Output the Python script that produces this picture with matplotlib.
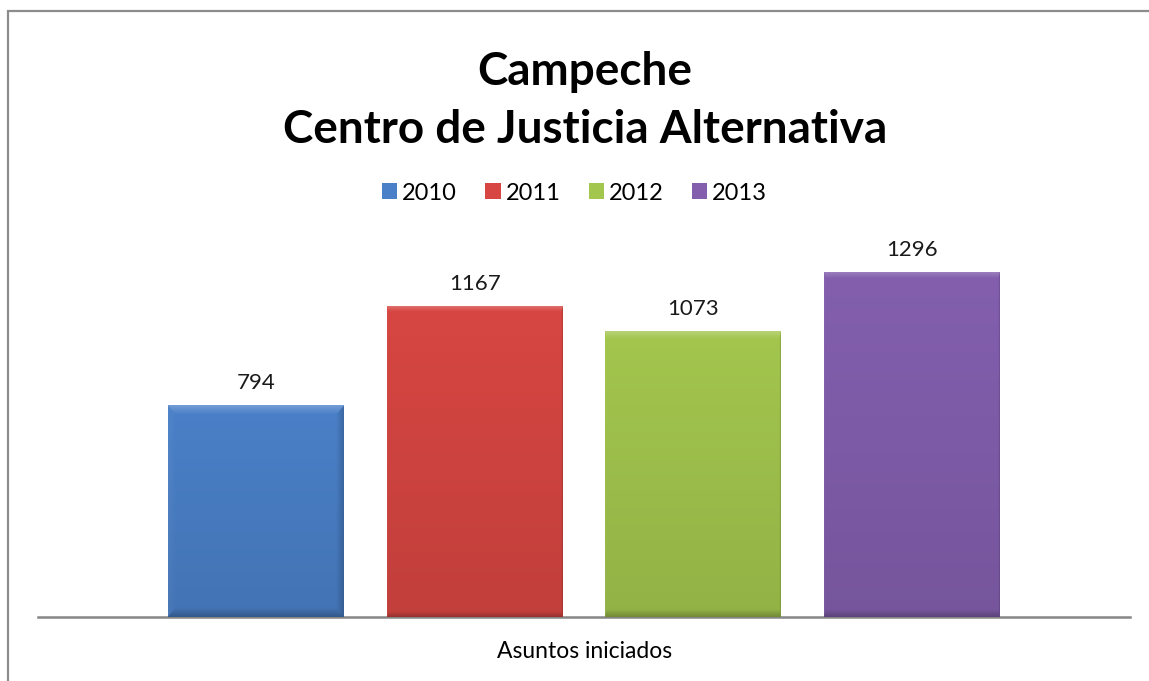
import numpy as np
import matplotlib
matplotlib.use("Agg")
import matplotlib.pyplot as plt
from matplotlib.patches import Rectangle
from matplotlib.colors import to_rgb

plt.rcParams['font.family'] = ['Lato', 'DejaVu Sans']

years = ['2010', '2011', '2012', '2013']
values = [794, 1167, 1073, 1296]
category = 'Asuntos iniciados'
colors = ['#4A80C8', '#D74642', '#A3C64E', '#835FAE']
title1 = 'Campeche'
title2 = 'Centro de Justicia Alternativa'


def bevel_image(color, nx, ny, bw=9):
    # bar face with a mitred bevel: light top, dark bottom/right
    base = np.array(to_rgb(color))
    xx, yy = np.meshgrid(np.arange(nx), np.arange(ny))
    d = np.stack([yy, ny - 1 - yy, xx, nx - 1 - xx])  # top, bottom, left, right
    edge = d.argmin(axis=0)
    dist = d.min(axis=0)
    factor = 1.0 - 0.10 * (yy / max(ny, 1))
    img = base[None, None, :] * factor[..., None]
    inb = dist < bw
    light = np.where(edge == 0, 0.22, np.where(edge == 2, 0.04, 0.0))
    dark = np.where(edge == 1, 0.22, np.where(edge == 3, 0.18, 0.0))
    w = (1 - dist / bw) * inb
    img = img + (light * w)[..., None] * (1 - img)
    img = img * (1 - (dark * w)[..., None])
    return np.clip(img, 0, 1)


fig = plt.figure(figsize=(11.49, 6.81), dpi=100)
fig.patches.append(Rectangle((8 / 1149, -0.1), 1.2, 1 - 11 / 681 + 0.1,
                             transform=fig.transFigure, fill=False,
                             edgecolor='#8c8c8c', lw=1.6))

ax = fig.add_axes([38 / 1149, 1 - 617 / 681, 1092 / 1149, 0.5477])
n = len(years)
width = 0.161
offsets = (np.arange(n) - (n - 1) / 2) * 0.2
bars = ax.bar(offsets, values, width=width, color=colors, label=years,
              edgecolor='none', zorder=2)
fig.canvas.draw()
for b, c, v in zip(bars, colors, values):
    x0, w, h = b.get_x(), b.get_width(), b.get_height()
    ext = b.get_window_extent()
    img = bevel_image(c, max(int(ext.width), 2), max(int(ext.height), 2))
    im = ax.imshow(img, extent=[x0, x0 + w, 0, h], aspect='auto', zorder=3,
                   interpolation='bilinear')
    im.set_clip_path(b)
    ax.text(x0 + w / 2, h + 45, str(v), ha='center', va='bottom',
            fontsize=16, color='#1a1a1a')

ax.set_xlim(-0.5, 0.5)
ax.set_ylim(0, 1400)
ax.set_yticks([])
ax.set_xticks([])
for s in ['top', 'right', 'left']:
    ax.spines[s].set_visible(False)
ax.spines['bottom'].set_color('#868686')
ax.spines['bottom'].set_linewidth(1.8)

fig.text(0.509, 1 - 72 / 681, title1, ha='center', va='center', fontsize=33,
         fontweight='bold')
fig.text(0.509, 1 - 130 / 681, title2, ha='center', va='center', fontsize=33,
         fontweight='bold')
fig.text(0.509, 1 - 652 / 681, category, ha='center', va='center',
         fontsize=16.5)

handles = [Rectangle((0, 0), 1, 1, facecolor=c, edgecolor='none') for c in colors]
fig.legend(handles, years, loc='center', bbox_to_anchor=(0.5, 1 - 193 / 681),
           ncol=4, frameon=False, fontsize=17, handlelength=0.65,
           handleheight=0.65, handletextpad=0.2, columnspacing=1.2)

fig.savefig('out.png', dpi=100)
